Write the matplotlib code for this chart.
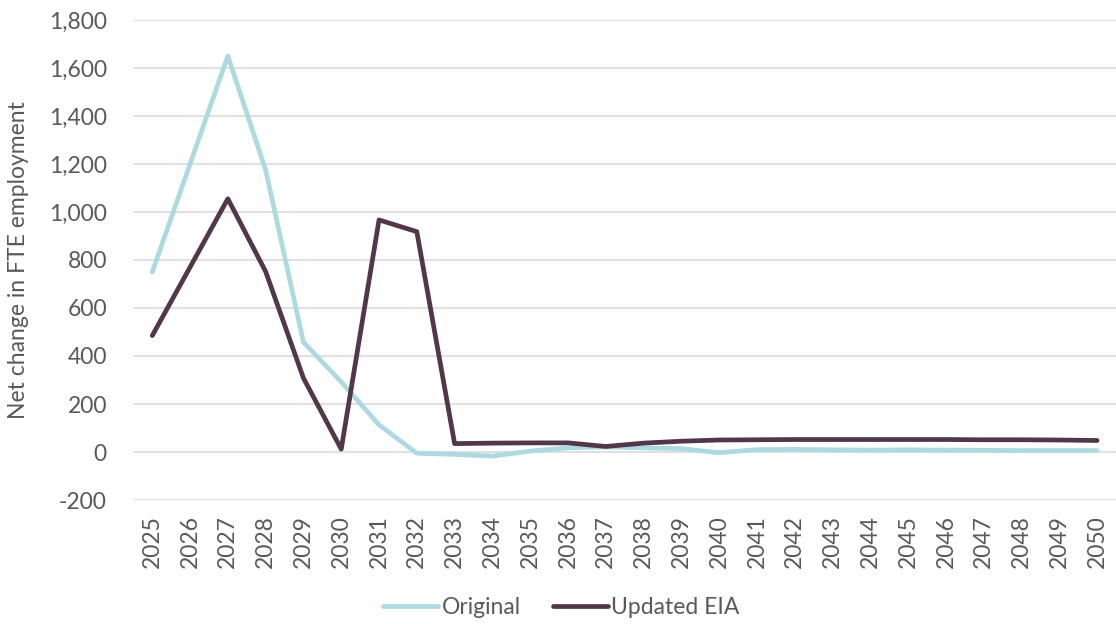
import matplotlib.pyplot as plt
from matplotlib.ticker import FuncFormatter

plt.rcParams['font.family'] = ['Lato', 'DejaVu Sans']

years = list(range(2025, 2051))
original = [750, 1200, 1650, 1175, 458, 292, 113, -5, -10, -17, 4, 17, 21, 17, 14, -3,
            10, 11, 9, 8, 9, 8, 7, 6, 6, 6]
updated_eia = [485, 770, 1055, 752, 308, 12, 967, 918, 35, 37, 38, 38, 23, 37, 45, 50,
               51, 52, 52, 52, 52, 52, 51, 51, 50, 48]

c_orig = '#ADDAE0'
c_upd = '#52364A'
grey = '#595959'

fig = plt.figure(figsize=(11.16, 6.24), dpi=100)
ax = fig.add_axes([0.1195, 0.1987, 0.8805, 0.7693])

x = range(len(years))
ax.plot(x, original, color=c_orig, linewidth=3.4, label='Original', solid_capstyle='round')
ax.plot(x, updated_eia, color=c_upd, linewidth=3.4, label='Updated EIA', solid_capstyle='round')

ax.set_xlim(-0.5, len(years) - 0.5)
ax.set_ylim(-200, 1800)
ax.set_yticks(range(-200, 1801, 200))
ax.yaxis.set_major_formatter(FuncFormatter(lambda v, p: f'{int(v):,}'))
ax.set_xticks(list(x))
ax.set_xticklabels([str(y) for y in years], rotation=90)

ax.grid(axis='y', color='#D9D9D9', linewidth=1.2)
ax.set_axisbelow(True)
for s in ax.spines.values():
    s.set_visible(False)
ax.tick_params(length=0, colors=grey, labelsize=16.5)
ax.tick_params(axis='y', pad=19)
ax.tick_params(axis='x', pad=11)

ax.set_ylabel('Net change in FTE employment', color=grey, fontsize=16.5)
ax.yaxis.set_label_coords(-0.106, 0.5)

leg = fig.legend(loc='center', bbox_to_anchor=(0.503, 0.026), ncol=2, frameon=False,
                 fontsize=16.5, handlelength=2.4, handletextpad=0.15, columnspacing=1.4)
for t in leg.get_texts():
    t.set_color(grey)

fig.savefig('out.png', dpi=100)
